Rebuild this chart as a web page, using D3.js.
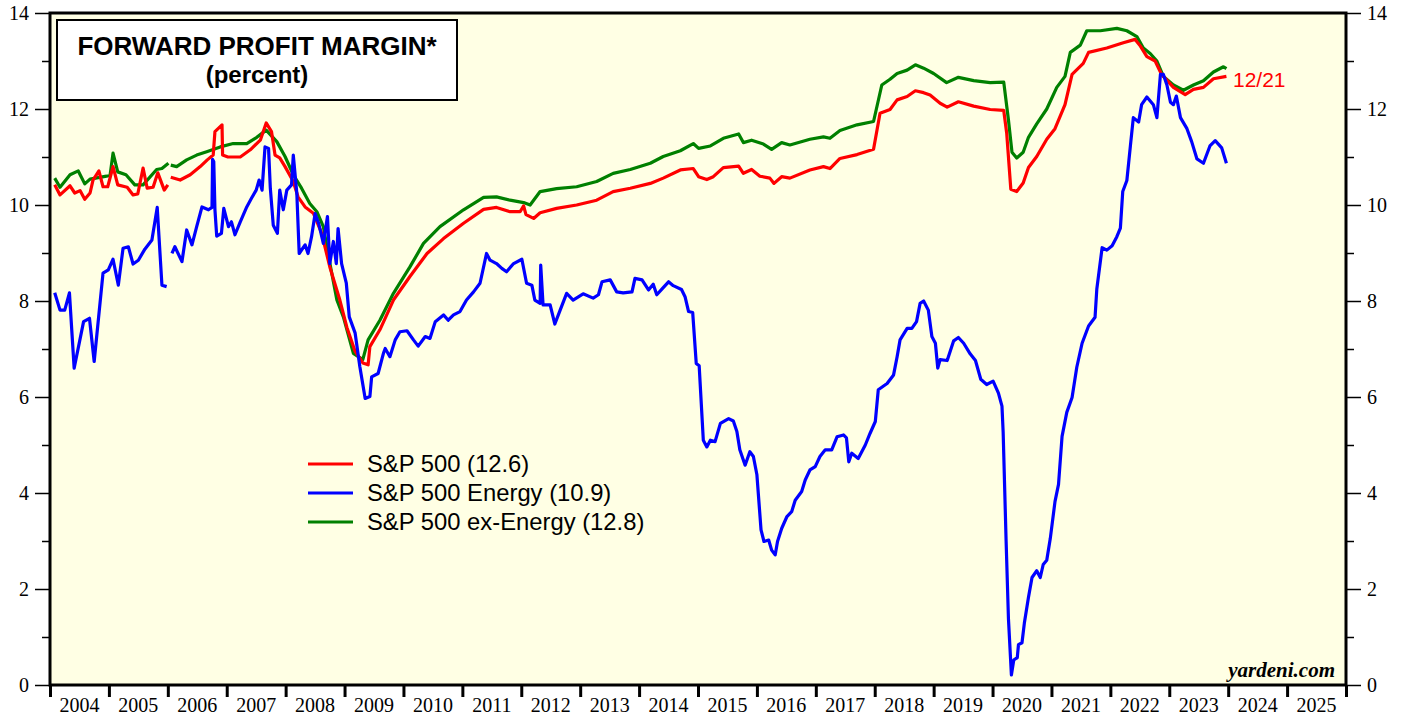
<!DOCTYPE html>
<meta charset="utf-8">
<script src="https://d3js.org/d3.v7.min.js"></script>
<style>
    body { margin: 0; background: #fff; }
    svg { display: block; }
</style>
<div id="chart"></div>
<script>
    // S&P 500 forward profit margin (decimal years), null = gap in the series
    const spDates = [2004.08, 2004.17, 2004.34, 2004.42, 2004.51, 2004.59, 2004.68, 2004.73, 2004.83, 2004.90, 2004.98,
        2005.07, 2005.15, 2005.31, 2005.41, 2005.49, 2005.58, 2005.65, 2005.75, 2005.83, 2005.94, 2006.00, 2006.02,
        2006.05, 2006.21, 2006.38, 2006.55, 2006.67, 2006.77, 2006.80, 2006.92, 2006.93, 2007.02, 2007.23, 2007.40,
        2007.57, 2007.67, 2007.76, 2007.82, 2007.90, 2007.99, 2008.13, 2008.21, 2008.33, 2008.47, 2008.61, 2008.75,
        2008.92, 2009.04, 2009.18, 2009.31, 2009.40, 2009.43, 2009.60, 2009.83, 2010.11, 2010.40, 2010.68, 2011.02,
        2011.36, 2011.58, 2011.81, 2011.98, 2012.04, 2012.08, 2012.21, 2012.32, 2012.60, 2012.94, 2013.28, 2013.56,
        2013.85, 2014.19, 2014.41, 2014.70, 2014.92, 2015.01, 2015.15, 2015.26, 2015.43, 2015.69, 2015.77, 2015.91,
        2016.05, 2016.22, 2016.29, 2016.42, 2016.56, 2016.90, 2017.13, 2017.24, 2017.41, 2017.70, 2017.98, 2018.09,
        2018.26, 2018.38, 2018.55, 2018.69, 2018.83, 2018.94, 2019.11, 2019.23, 2019.42, 2019.68, 2019.96, 2020.19,
        2020.24, 2020.31, 2020.41, 2020.52, 2020.61, 2020.75, 2020.92, 2021.06, 2021.23, 2021.35, 2021.54, 2021.63,
        2021.94, 2022.22, 2022.42, 2022.51, 2022.62, 2022.76, 2022.87, 2023.07, 2023.27, 2023.41, 2023.58, 2023.75,
        2023.97];
    const spValues = [10.42, 10.21, 10.40, 10.25, 10.30, 10.12, 10.25, 10.52, 10.71, 10.38, 10.38,
        10.80, 10.42, 10.37, 10.21, 10.23, 10.77, 10.35, 10.37, 10.67, 10.31, 10.42, null,
        10.58, 10.52, 10.63, 10.80, 10.94, 11.04, 11.53, 11.67, 11.04, 11.00, 11.00, 11.15,
        11.35, 11.71, 11.53, 11.04, 10.98, 10.80, 10.49, 10.17, 9.96, 9.83, 9.42, 8.71,
        8.02, 7.45, 6.95, 6.71, 6.67, 7.05, 7.40, 8.02, 8.51, 8.99, 9.30, 9.62,
        9.91, 9.95, 9.86, 9.86, 9.98, 9.80, 9.72, 9.84, 9.93, 10.00, 10.10, 10.28,
        10.35, 10.45, 10.56, 10.73, 10.76, 10.59, 10.53, 10.59, 10.78, 10.81, 10.66, 10.74,
        10.60, 10.56, 10.45, 10.59, 10.56, 10.73, 10.80, 10.76, 10.97, 11.05, 11.16, 11.91,
        11.99, 12.19, 12.26, 12.38, 12.34, 12.29, 12.12, 12.04, 12.15, 12.06, 11.99, 11.97,
        11.50, 10.33, 10.28, 10.46, 10.78, 11.01, 11.37, 11.59, 12.09, 12.72, 12.95, 13.18,
        13.27, 13.38, 13.45, 13.31, 13.09, 13.00, 12.72, 12.45, 12.30, 12.41, 12.45, 12.63,
        12.68];

    // S&P 500 Energy
    const energyDates = [2004.08, 2004.17, 2004.25, 2004.33, 2004.41, 2004.57, 2004.67, 2004.75, 2004.90, 2004.99,
        2005.07, 2005.16, 2005.24, 2005.33, 2005.41, 2005.50, 2005.61, 2005.73, 2005.82, 2005.90, 2005.98, 2006.02,
        2006.07, 2006.12, 2006.24, 2006.32, 2006.41, 2006.49, 2006.58, 2006.69, 2006.75, 2006.76, 2006.78, 2006.80,
        2006.83, 2006.91, 2006.95, 2007.03, 2007.08, 2007.14, 2007.23, 2007.34, 2007.42, 2007.50, 2007.55, 2007.60,
        2007.65, 2007.71, 2007.74, 2007.79, 2007.86, 2007.90, 2007.96, 2008.02, 2008.10, 2008.13, 2008.19, 2008.23,
        2008.33, 2008.38, 2008.44, 2008.50, 2008.56, 2008.64, 2008.71, 2008.75, 2008.81, 2008.86, 2008.89, 2008.95,
        2009.03, 2009.08, 2009.18, 2009.26, 2009.35, 2009.43, 2009.46, 2009.57, 2009.66, 2009.69, 2009.77, 2009.86,
        2009.94, 2010.06, 2010.17, 2010.25, 2010.37, 2010.45, 2010.54, 2010.68, 2010.76, 2010.85, 2010.96, 2011.07,
        2011.19, 2011.30, 2011.41, 2011.47, 2011.58, 2011.67, 2011.75, 2011.87, 2012.01, 2012.09, 2012.18, 2012.23,
        2012.32, 2012.33, 2012.37, 2012.49, 2012.57, 2012.66, 2012.77, 2012.88, 2013.05, 2013.22, 2013.31, 2013.37,
        2013.51, 2013.62, 2013.73, 2013.88, 2013.93, 2014.05, 2014.16, 2014.24, 2014.30, 2014.41, 2014.50, 2014.58,
        2014.72, 2014.78, 2014.84, 2014.91, 2014.97, 2015.02, 2015.09, 2015.15, 2015.21, 2015.29, 2015.38, 2015.52,
        2015.60, 2015.66, 2015.71, 2015.80, 2015.88, 2015.94, 2016.00, 2016.07, 2016.12, 2016.20, 2016.25, 2016.31,
        2016.35, 2016.42, 2016.51, 2016.59, 2016.65, 2016.76, 2016.82, 2016.90, 2016.99, 2017.07, 2017.16, 2017.27,
        2017.36, 2017.47, 2017.52, 2017.56, 2017.61, 2017.72, 2017.84, 2017.92, 2018.01, 2018.06, 2018.21, 2018.32,
        2018.38, 2018.43, 2018.55, 2018.63, 2018.71, 2018.77, 2018.83, 2018.91, 2018.97, 2019.03, 2019.07, 2019.11,
        2019.23, 2019.34, 2019.42, 2019.51, 2019.62, 2019.71, 2019.80, 2019.90, 2020.01, 2020.10, 2020.16, 2020.18,
        2020.23, 2020.27, 2020.32, 2020.36, 2020.42, 2020.44, 2020.50, 2020.54, 2020.61, 2020.67, 2020.75, 2020.81,
        2020.86, 2020.92, 2020.98, 2021.06, 2021.12, 2021.18, 2021.26, 2021.35, 2021.43, 2021.52, 2021.63, 2021.74,
        2021.77, 2021.86, 2021.94, 2022.03, 2022.11, 2022.17, 2022.21, 2022.28, 2022.34, 2022.39, 2022.48, 2022.53,
        2022.62, 2022.73, 2022.79, 2022.85, 2022.90, 2022.96, 2023.02, 2023.07, 2023.12, 2023.19, 2023.30, 2023.38,
        2023.47, 2023.58, 2023.69, 2023.78, 2023.89, 2023.97];
    const energyValues = [8.17, 7.81, 7.81, 8.17, 6.60, 7.57, 7.64, 6.74, 8.58, 8.65,
        8.87, 8.33, 9.10, 9.13, 8.77, 8.85, 9.08, 9.27, 9.95, 8.33, 8.30, null,
        8.99, 9.13, 8.82, 9.48, 9.17, 9.55, 9.96, 9.90, 9.95, 10.95, 10.90, 9.90,
        9.35, 9.41, 9.93, 9.55, 9.65, 9.38, 9.65, 9.96, 10.14, 10.31, 10.52, 10.31,
        11.21, 11.18, 10.35, 9.58, 9.41, 10.31, 9.90, 10.31, 10.42, 11.04, 10.24, 8.99,
        9.17, 8.99, 9.34, 9.82, 9.62, 9.20, 9.76, 8.78, 9.24, 8.78, 9.51, 8.78,
        8.37, 7.67, 7.33, 6.63, 5.97, 6.01, 6.42, 6.49, 6.91, 7.01, 6.84, 7.19,
        7.36, 7.38, 7.19, 7.06, 7.26, 7.22, 7.57, 7.71, 7.60, 7.71, 7.78, 8.02,
        8.19, 8.37, 8.99, 8.85, 8.78, 8.68, 8.61, 8.78, 8.87, 8.37, 8.33, 8.02,
        7.95, 8.75, 7.92, 7.92, 7.52, 7.81, 8.16, 8.02, 8.15, 8.06, 8.13, 8.40,
        8.44, 8.19, 8.17, 8.19, 8.47, 8.44, 8.23, 8.35, 8.13, 8.28, 8.40, 8.32,
        8.24, 8.09, 7.78, 7.76, 6.70, 6.65, 5.10, 4.96, 5.10, 5.07, 5.45, 5.55,
        5.50, 5.28, 4.90, 4.58, 4.86, 4.76, 4.38, 3.23, 2.99, 3.02, 2.81, 2.71,
        2.99, 3.26, 3.51, 3.61, 3.85, 4.03, 4.27, 4.48, 4.55, 4.76, 4.90, 4.90,
        5.17, 5.21, 5.15, 4.65, 4.83, 4.72, 5.00, 5.24, 5.49, 6.15, 6.28, 6.46,
        6.84, 7.19, 7.43, 7.43, 7.57, 7.95, 8.00, 7.81, 7.26, 7.12, 6.60, 6.78,
        6.76, 7.17, 7.24, 7.12, 6.90, 6.76, 6.37, 6.26, 6.33, 6.08, 5.81, 5.27,
        3.01, 1.38, 0.21, 0.52, 0.57, 0.84, 0.88, 1.29, 1.83, 2.24, 2.38, 2.24,
        2.51, 2.60, 3.05, 3.82, 4.18, 5.18, 5.68, 5.99, 6.62, 7.12, 7.48, 7.66,
        8.25, 9.11, 9.06, 9.15, 9.34, 9.52, 10.28, 10.51, 11.23, 11.82, 11.73, 12.09,
        12.25, 12.09, 11.82, 12.72, 12.72, 12.50, 12.14, 12.09, 12.27, 11.82, 11.59, 11.32,
        10.96, 10.87, 11.23, 11.34, 11.19, 10.87];

    // S&P 500 ex-Energy
    const exDates = [2004.08, 2004.17, 2004.34, 2004.48, 2004.59, 2004.68, 2004.96, 2005.02, 2005.07, 2005.15,
        2005.29, 2005.44, 2005.58, 2005.81, 2005.90, 2006.01, 2006.03, 2006.05, 2006.15, 2006.32, 2006.49, 2006.66,
        2006.89, 2007.11, 2007.34, 2007.51, 2007.67, 2007.85, 2007.99, 2008.13, 2008.27, 2008.41, 2008.53, 2008.64,
        2008.75, 2008.87, 2008.98, 2009.15, 2009.31, 2009.40, 2009.60, 2009.83, 2010.11, 2010.34, 2010.62, 2011.02,
        2011.36, 2011.58, 2011.81, 2012.04, 2012.15, 2012.32, 2012.60, 2012.94, 2013.28, 2013.56, 2013.85, 2014.19,
        2014.41, 2014.70, 2014.92, 2015.01, 2015.21, 2015.43, 2015.69, 2015.77, 2015.91, 2016.11, 2016.25, 2016.42,
        2016.56, 2016.90, 2017.13, 2017.24, 2017.41, 2017.70, 2017.98, 2018.12, 2018.26, 2018.38, 2018.55, 2018.69,
        2018.83, 2019.00, 2019.22, 2019.42, 2019.68, 2019.96, 2020.19, 2020.27, 2020.33, 2020.41, 2020.52, 2020.61,
        2020.75, 2020.92, 2021.09, 2021.23, 2021.32, 2021.49, 2021.60, 2021.83, 2022.11, 2022.28, 2022.45, 2022.56,
        2022.68, 2022.79, 2022.90, 2023.07, 2023.24, 2023.41, 2023.58, 2023.75, 2023.92, 2023.97];
    const exValues = [10.56, 10.37, 10.63, 10.71, 10.44, 10.54, 10.60, 10.62, 11.08, 10.69,
        10.63, 10.42, 10.42, 10.74, 10.76, 10.87, null, 10.83, 10.80, 10.94, 11.04, 11.11,
        11.21, 11.28, 11.28, 11.41, 11.56, 11.32, 11.01, 10.63, 10.35, 10.03, 9.86, 9.55,
        8.79, 8.02, 7.67, 6.91, 6.78, 7.19, 7.60, 8.16, 8.71, 9.20, 9.55, 9.90,
        10.16, 10.17, 10.10, 10.05, 10.00, 10.28, 10.34, 10.38, 10.49, 10.66, 10.74, 10.87,
        11.01, 11.13, 11.28, 11.18, 11.23, 11.39, 11.48, 11.30, 11.35, 11.27, 11.16, 11.30,
        11.25, 11.37, 11.42, 11.39, 11.55, 11.67, 11.74, 12.50, 12.62, 12.74, 12.81, 12.92,
        12.85, 12.74, 12.55, 12.66, 12.59, 12.55, 12.56, 11.77, 11.10, 10.98, 11.10, 11.41,
        11.69, 12.00, 12.45, 12.68, 13.18, 13.33, 13.63, 13.63, 13.68, 13.63, 13.51, 13.27,
        13.15, 13.00, 12.68, 12.50, 12.39, 12.50, 12.59, 12.77, 12.88, 12.84];

    const yearLabels = d3.range(2004, 2026);
    const yMajorTicks = [0, 2, 4, 6, 8, 10, 12, 14];
    const yMinorTicks = [1, 3, 5, 7, 9, 11, 13];
    const legendLabels = ["S&P 500 (12.6)", "S&P 500 Energy (10.9)", "S&P 500 ex-Energy (12.8)"];
    const legendColors = ["#ff0000", "#0000ff", "#008000"];

    var W = 1405, H = 717;
    var margin = { top: 13, right: 59, bottom: 32, left: 50 };
    var serif = "'Liberation Serif', 'Times New Roman', serif";
    var sans = "'Liberation Sans', Arial, sans-serif";

    var svg = d3.select("#chart").append("svg")
        .attr("width", W)
        .attr("height", H);

    var x = d3.scaleLinear().domain([2004, 2026]).range([margin.left, W - margin.right]);
    var y = d3.scaleLinear().domain([0, 14]).range([H - margin.bottom, margin.top]);

    // plot background
    svg.append("rect")
        .attr("x", x(2004)).attr("y", y(14))
        .attr("width", x(2026) - x(2004)).attr("height", y(0) - y(14))
        .attr("fill", "#ffffe4");

    // left and right axes
    svg.append("g")
        .attr("transform", "translate(" + x(2004) + ",0)")
        .call(d3.axisLeft(y).tickValues(yMajorTicks).tickSize(15).tickPadding(6).tickFormat(d3.format("d")))
        .call(g => g.select(".domain").remove())
        .call(g => g.selectAll("line").attr("stroke-width", 1.5))
        .call(g => g.selectAll("text").attr("font-family", serif).attr("font-size", 20).attr("fill", "#000"));
    svg.append("g")
        .attr("transform", "translate(" + x(2004) + ",0)")
        .call(d3.axisLeft(y).tickValues(yMinorTicks).tickSize(8).tickFormat(""))
        .call(g => g.select(".domain").remove())
        .call(g => g.selectAll("line").attr("stroke-width", 1.5));
    svg.append("g")
        .attr("transform", "translate(" + x(2026) + ",0)")
        .call(d3.axisRight(y).tickValues(yMajorTicks).tickSize(15).tickPadding(6).tickFormat(d3.format("d")))
        .call(g => g.select(".domain").remove())
        .call(g => g.selectAll("line").attr("stroke-width", 1.5))
        .call(g => g.selectAll("text").attr("font-family", serif).attr("font-size", 20).attr("fill", "#000"));
    svg.append("g")
        .attr("transform", "translate(" + x(2026) + ",0)")
        .call(d3.axisRight(y).tickValues(yMinorTicks).tickSize(8).tickFormat(""))
        .call(g => g.select(".domain").remove())
        .call(g => g.selectAll("line").attr("stroke-width", 1.5));

    // bottom axis: ticks on year boundaries, labels centred in each year
    svg.append("g")
        .attr("transform", "translate(0," + y(0) + ")")
        .call(d3.axisBottom(x).tickValues(d3.range(2004, 2027)).tickSize(12).tickFormat(""))
        .call(g => g.select(".domain").remove())
        .call(g => g.selectAll("line").attr("stroke-width", 3));
    svg.append("g")
        .selectAll("text")
        .data(yearLabels)
        .join("text")
        .attr("x", d => x(d + 0.5))
        .attr("y", y(0) + 27)
        .attr("text-anchor", "middle")
        .attr("font-family", serif)
        .attr("font-size", 20)
        .text(d => d);

    // series
    function series(dates, values) {
        return dates.map((d, i) => ({ t: d, v: values[i] }));
    }
    var line = d3.line()
        .defined(d => d.v != null)
        .x(d => x(d.t))
        .y(d => y(d.v));

    var lines = [
        { data: series(exDates, exValues), color: "#008000" },
        { data: series(spDates, spValues), color: "#ff0000" },
        { data: series(energyDates, energyValues), color: "#0000ff" }
    ];
    svg.append("g")
        .selectAll("path")
        .data(lines)
        .join("path")
        .attr("d", d => line(d.data))
        .attr("fill", "none")
        .attr("stroke", d => d.color)
        .attr("stroke-width", 3.2)
        .attr("stroke-linejoin", "round");

    // frame
    svg.append("rect")
        .attr("x", x(2004)).attr("y", y(14))
        .attr("width", x(2026) - x(2004)).attr("height", y(0) - y(14))
        .attr("fill", "none")
        .attr("stroke", "#000")
        .attr("stroke-width", 3);

    // title box
    svg.append("rect")
        .attr("x", 57).attr("y", 20).attr("width", 400).attr("height", 80)
        .attr("fill", "#fff").attr("stroke", "#000").attr("stroke-width", 2);
    svg.append("text")
        .attr("x", 257).attr("y", 55)
        .attr("text-anchor", "middle")
        .attr("font-family", sans).attr("font-weight", "bold").attr("font-size", 26)
        .text("FORWARD PROFIT MARGIN*");
    svg.append("text")
        .attr("x", 257).attr("y", 83)
        .attr("text-anchor", "middle")
        .attr("font-family", sans).attr("font-weight", "bold").attr("font-size", 24)
        .text("(percent)");

    // legend
    var legend = svg.append("g");
    legendLabels.forEach(function (label, i) {
        var ly = 464 + i * 29;
        legend.append("line")
            .attr("x1", 308).attr("x2", 353).attr("y1", ly).attr("y2", ly)
            .attr("stroke", legendColors[i]).attr("stroke-width", 3);
        legend.append("text")
            .attr("x", 367).attr("y", ly + 8)
            .attr("font-family", sans).attr("font-size", 23.8)
            .text(label);
    });

    // end date label
    svg.append("text")
        .attr("x", 1233).attr("y", 87)
        .attr("font-family", sans).attr("font-size", 21)
        .attr("fill", "#ff0000")
        .text("12/21");

    svg.append("text")
        .attr("x", 1335).attr("y", 677)
        .attr("text-anchor", "end")
        .attr("font-family", serif).attr("font-weight", "bold").attr("font-style", "italic")
        .attr("font-size", 21)
        .text("yardeni.com");
</script>
